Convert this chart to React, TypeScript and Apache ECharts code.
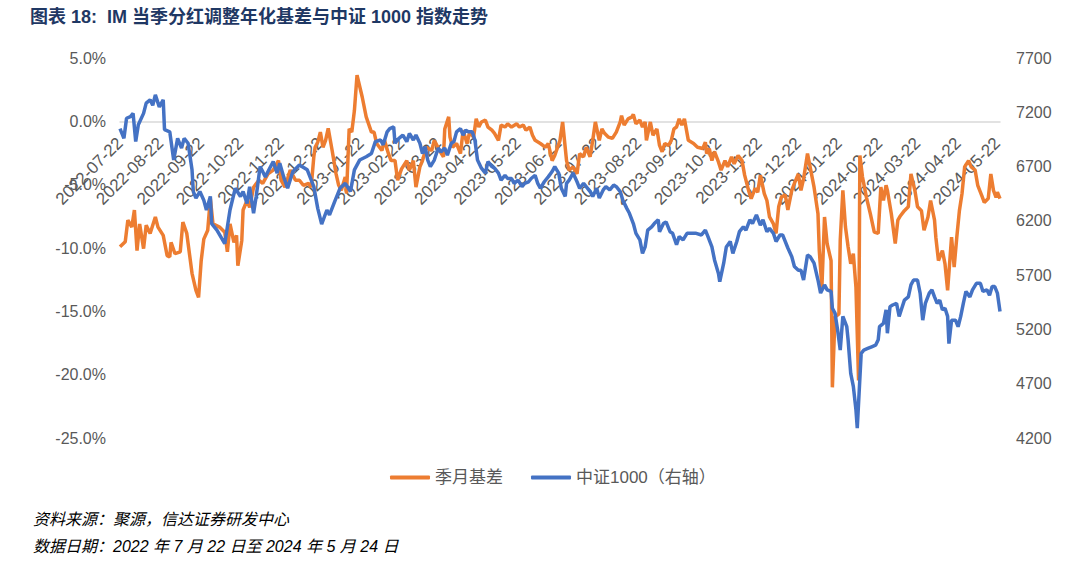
import React, { useEffect, useRef } from "react";
import * as echarts from "echarts";

const START_DATE = "2022-07-22";
const END_DATE = "2024-05-24";
const LEFT_TICKS = { min: -25, max: 5, interval: 5 };
const RIGHT_TICKS = { min: 4200, max: 7700, interval: 500 };
const SERIES_NAMES = ["季月基差", "中证1000（右轴）"];

// 季月基差 (%)
const basisData: [string, number][] = [
  ["2022-07-22", -9.9], ["2022-07-26", -9.5], ["2022-07-28", -7.8], ["2022-07-31", -8.35], ["2022-08-02", -7.0], ["2022-08-04", -10.2], ["2022-08-06", -8.1], ["2022-08-09", -10.05], ["2022-08-11", -8.2], ["2022-08-14", -8.85], ["2022-08-18", -7.55], ["2022-08-20", -8.35],
  ["2022-08-24", -9.0], ["2022-08-27", -10.6], ["2022-08-29", -10.7], ["2022-08-30", -9.55], ["2022-09-02", -10.45], ["2022-09-06", -10.3], ["2022-09-08", -7.95], ["2022-09-11", -8.85], ["2022-09-15", -12.0], ["2022-09-18", -13.35], ["2022-09-20", -13.9],
  ["2022-09-22", -11.0], ["2022-09-24", -9.3], ["2022-09-27", -8.6], ["2022-09-29", -6.1], ["2022-10-01", -8.1], ["2022-10-06", -8.35], ["2022-10-10", -8.75], ["2022-10-12", -10.3], ["2022-10-14", -8.1], ["2022-10-17", -9.55], ["2022-10-19", -9.0], ["2022-10-20", -11.4],
  ["2022-10-23", -9.4], ["2022-10-24", -7.0], ["2022-10-27", -6.25], ["2022-10-29", -6.8], ["2022-11-01", -5.2], ["2022-11-05", -4.65], ["2022-11-08", -4.9], ["2022-11-12", -4.15], ["2022-11-16", -3.85], ["2022-11-20", -3.1],
  ["2022-11-22", -4.65], ["2022-11-25", -5.2], ["2022-11-29", -3.85], ["2022-12-03", -4.65], ["2022-12-06", -4.65], ["2022-12-09", -5.05], ["2022-12-13", -4.9], ["2022-12-15", -5.2], ["2022-12-17", -2.8], ["2022-12-18", -2.05], ["2022-12-20", -1.65],
  ["2022-12-22", -0.85], ["2022-12-24", -2.05], ["2022-12-26", -1.5], ["2022-12-28", -0.55], ["2022-12-31", -2.3], ["2023-01-03", -4.15], ["2023-01-05", -5.05], ["2023-01-07", -5.45], ["2023-01-10", -4.4], ["2023-01-11", -5.7], ["2023-01-13", -0.6], ["2023-01-15", -0.85], ["2023-01-17", 0.85], ["2023-01-19", 3.65],
  ["2023-01-23", 1.9], ["2023-01-26", 0.35], ["2023-01-30", -0.85], ["2023-02-01", -0.85], ["2023-02-03", -1.75], ["2023-02-07", -2.3], ["2023-02-09", -1.5], ["2023-02-12", -2.55], ["2023-02-14", -3.1], ["2023-02-17", -3.1], ["2023-02-19", -4.65],
  ["2023-02-22", -3.75], ["2023-02-26", -3.1], ["2023-02-28", -3.85], ["2023-03-03", -3.1], ["2023-03-05", -5.2], ["2023-03-08", -3.6], ["2023-03-10", -3.1], ["2023-03-13", -2.05], ["2023-03-17", -2.3], ["2023-03-19", -1.5],
  ["2023-03-23", -2.3], ["2023-03-26", -2.8], ["2023-03-27", -0.6], ["2023-03-30", 0.35], ["2023-03-31", -1.25], ["2023-04-02", -2.05], ["2023-04-05", -1.75], ["2023-04-08", -2.55], ["2023-04-10", -0.7], ["2023-04-13", -1.75], ["2023-04-15", -0.85], ["2023-04-18", -1.25], ["2023-04-20", 0.2],
  ["2023-04-22", -0.45], ["2023-04-24", -0.05], ["2023-04-27", 0.1], ["2023-04-29", -0.45], ["2023-05-02", -0.7], ["2023-05-04", -0.95], ["2023-05-07", -1.5], ["2023-05-09", -0.3], ["2023-05-12", -0.45], ["2023-05-14", -0.2], ["2023-05-17", -0.45], ["2023-05-21", -0.2],
  ["2023-05-23", -0.45], ["2023-05-26", -0.3], ["2023-05-28", -0.7], ["2023-05-31", -0.45], ["2023-06-02", -1.1], ["2023-06-04", -1.5], ["2023-06-08", -1.75], ["2023-06-12", -2.05], ["2023-06-14", -1.75], ["2023-06-17", -3.1], ["2023-06-19", -2.7],
  ["2023-06-23", -1.5], ["2023-06-25", -0.05], ["2023-06-28", -3.1], ["2023-06-30", -3.85], ["2023-07-03", -3.6], ["2023-07-06", -4.15], ["2023-07-08", -2.55], ["2023-07-11", -2.8], ["2023-07-13", -2.05], ["2023-07-16", -2.8], ["2023-07-18", -1.5], ["2023-07-20", -0.05],
  ["2023-07-23", -1.5], ["2023-07-25", -0.6], ["2023-07-27", -0.95], ["2023-07-30", -1.25], ["2023-08-02", -1.35], ["2023-08-05", -0.85], ["2023-08-08", -0.05], ["2023-08-09", 0.45], ["2023-08-11", -0.3], ["2023-08-14", 0.2], ["2023-08-17", 0.35], ["2023-08-18", 0.55], ["2023-08-20", -0.2],
  ["2023-08-23", 0.1], ["2023-08-25", -0.45], ["2023-08-27", -0.05], ["2023-08-28", -1.5], ["2023-08-31", -0.05], ["2023-09-02", -1.1], ["2023-09-05", -0.6], ["2023-09-07", -1.9], ["2023-09-09", -2.4], ["2023-09-11", -1.75], ["2023-09-14", -1.9], ["2023-09-16", -1.5], ["2023-09-18", -0.6], ["2023-09-20", -0.45],
  ["2023-09-22", 0.2], ["2023-09-24", -0.3], ["2023-09-26", 0.2], ["2023-09-29", -1.5], ["2023-10-03", -1.75], ["2023-10-06", -2.05], ["2023-10-10", -2.15], ["2023-10-12", -1.65], ["2023-10-13", -2.55], ["2023-10-15", -2.15], ["2023-10-17", -3.1], ["2023-10-19", -2.4],
  ["2023-10-22", -3.2], ["2023-10-24", -3.85], ["2023-10-27", -3.1], ["2023-10-29", -3.6], ["2023-11-01", -2.8], ["2023-11-03", -3.35], ["2023-11-06", -2.7], ["2023-11-09", -3.1], ["2023-11-11", -4.25], ["2023-11-14", -5.45], ["2023-11-16", -6.1], ["2023-11-19", -5.3],
  ["2023-11-21", -5.6], ["2023-11-23", -4.25], ["2023-11-26", -5.7], ["2023-11-28", -6.25], ["2023-11-30", -7.55], ["2023-12-03", -8.1], ["2023-12-05", -8.85], ["2023-12-07", -6.75], ["2023-12-09", -6.0], ["2023-12-12", -5.8], ["2023-12-14", -7.0], ["2023-12-17", -5.45], ["2023-12-19", -4.9],
  ["2023-12-22", -4.15], ["2023-12-24", -5.45], ["2023-12-26", -4.55], ["2023-12-29", -2.55], ["2023-12-31", -3.6], ["2024-01-03", -5.2], ["2024-01-06", -7.3], ["2024-01-07", -10.2], ["2024-01-09", -13.1], ["2024-01-11", -7.55], ["2024-01-13", -9.65], ["2024-01-16", -11.0], ["2024-01-17", -21.0], ["2024-01-19", -15.45],
  ["2024-01-22", -15.2], ["2024-01-23", -9.4], ["2024-01-25", -5.45], ["2024-01-27", -8.35], ["2024-01-29", -9.9], ["2024-01-31", -11.25], ["2024-02-02", -10.45], ["2024-02-04", -13.1], ["2024-02-06", -20.45], ["2024-02-07", -2.7], ["2024-02-09", -4.4], ["2024-02-12", -6.0], ["2024-02-15", -7.3], ["2024-02-18", -8.75], ["2024-02-21", -8.85],
  ["2024-02-23", -5.2], ["2024-02-25", -6.25], ["2024-02-27", -5.05], ["2024-02-28", -5.45], ["2024-03-02", -7.3], ["2024-03-05", -9.65], ["2024-03-07", -7.8], ["2024-03-09", -7.45], ["2024-03-12", -7.05], ["2024-03-15", -6.75], ["2024-03-17", -4.15], ["2024-03-20", -5.45],
  ["2024-03-22", -6.75], ["2024-03-25", -7.05], ["2024-03-27", -8.6], ["2024-03-30", -7.55], ["2024-04-01", -6.25], ["2024-04-04", -7.8], ["2024-04-05", -9.15], ["2024-04-07", -11.0], ["2024-04-10", -10.2], ["2024-04-12", -11.25], ["2024-04-14", -13.35], ["2024-04-17", -9.15], ["2024-04-19", -11.5],
  ["2024-04-21", -9.15], ["2024-04-23", -7.05], ["2024-04-25", -5.7], ["2024-04-27", -3.6], ["2024-04-30", -3.1], ["2024-05-02", -3.6], ["2024-05-05", -3.85], ["2024-05-07", -5.05], ["2024-05-10", -5.85], ["2024-05-12", -6.4], ["2024-05-15", -6.1], ["2024-05-17", -4.15], ["2024-05-19", -5.45],
  ["2024-05-21", -6.0], ["2024-05-22", -5.6], ["2024-05-24", -6.1],
];

// 中证1000 index level (right axis)
const csiData: [string, number][] = [
  ["2022-07-22", 7050], ["2022-07-25", 6960], ["2022-07-27", 7145], ["2022-07-30", 7160], ["2022-08-01", 7190], ["2022-08-03", 6930], ["2022-08-05", 7085], ["2022-08-09", 7190], ["2022-08-11", 7285], ["2022-08-14", 7315], ["2022-08-16", 7265], ["2022-08-18", 7360], ["2022-08-21", 7250],
  ["2022-08-24", 7315], ["2022-08-25", 7040], ["2022-08-29", 7020], ["2022-09-01", 6760], ["2022-09-04", 6960], ["2022-09-07", 6870], ["2022-09-09", 6960], ["2022-09-12", 6915], ["2022-09-15", 6670], ["2022-09-16", 6470], ["2022-09-18", 6410],
  ["2022-09-21", 6470], ["2022-09-24", 6390], ["2022-09-26", 6300], ["2022-09-29", 6425], ["2022-09-30", 6175], ["2022-10-04", 6115], ["2022-10-10", 5990], ["2022-10-14", 6300], ["2022-10-18", 6500], ["2022-10-22", 6425],
  ["2022-10-24", 6470], ["2022-10-27", 6360], ["2022-10-29", 6515], ["2022-11-01", 6270], ["2022-11-03", 6425], ["2022-11-06", 6700], ["2022-11-10", 6605], ["2022-11-12", 6655], ["2022-11-16", 6745], ["2022-11-19", 6640],
  ["2022-11-21", 6730], ["2022-11-24", 6605], ["2022-11-27", 6500], ["2022-12-01", 6655], ["2022-12-06", 6715], ["2022-12-12", 6670], ["2022-12-17", 6515], ["2022-12-20", 6315],
  ["2022-12-23", 6170], ["2022-12-27", 6300], ["2022-12-29", 6255], ["2023-01-02", 6380], ["2023-01-06", 6500], ["2023-01-10", 6545], ["2023-01-14", 6470], ["2023-01-17", 6670], ["2023-01-21", 6760],
  ["2023-01-26", 6790], ["2023-01-30", 6820], ["2023-02-02", 6930], ["2023-02-06", 6945], ["2023-02-08", 6900], ["2023-02-11", 7020], ["2023-02-13", 7050], ["2023-02-16", 7065], ["2023-02-17", 6915], ["2023-02-20", 6960],
  ["2023-02-23", 6990], ["2023-02-26", 6930], ["2023-02-28", 7005], ["2023-03-03", 6945], ["2023-03-05", 6990], ["2023-03-08", 6915], ["2023-03-10", 6820], ["2023-03-12", 6885], ["2023-03-14", 6760], ["2023-03-16", 6700], ["2023-03-19", 6760],
  ["2023-03-22", 6870], ["2023-03-24", 6835], ["2023-03-27", 6870], ["2023-03-29", 6805], ["2023-04-01", 6915], ["2023-04-03", 6930], ["2023-04-05", 7020], ["2023-04-08", 7050], ["2023-04-10", 6990], ["2023-04-12", 7035], ["2023-04-14", 7020], ["2023-04-17", 7020], ["2023-04-19", 6945],
  ["2023-04-21", 6760], ["2023-04-24", 6685], ["2023-04-27", 6640], ["2023-04-29", 6745], ["2023-05-02", 6700], ["2023-05-04", 6685], ["2023-05-07", 6640], ["2023-05-09", 6575], ["2023-05-12", 6620], ["2023-05-14", 6590], ["2023-05-17", 6590], ["2023-05-19", 6545],
  ["2023-05-22", 6575], ["2023-05-25", 6515], ["2023-05-27", 6545], ["2023-05-30", 6560], ["2023-06-01", 6590], ["2023-06-04", 6620], ["2023-06-06", 6545], ["2023-06-08", 6500], ["2023-06-11", 6560], ["2023-06-14", 6605], ["2023-06-17", 6655], ["2023-06-19", 6700],
  ["2023-06-22", 6640], ["2023-06-24", 6500], ["2023-06-27", 6425], ["2023-06-28", 6545], ["2023-06-30", 6575], ["2023-07-03", 6640], ["2023-07-06", 6560], ["2023-07-08", 6500], ["2023-07-11", 6545], ["2023-07-13", 6515], ["2023-07-16", 6470], ["2023-07-18", 6425], ["2023-07-21", 6500],
  ["2023-07-23", 6410], ["2023-07-26", 6485], ["2023-07-28", 6515], ["2023-07-31", 6485], ["2023-08-03", 6530], ["2023-08-05", 6515], ["2023-08-08", 6470], ["2023-08-10", 6390], ["2023-08-13", 6315], ["2023-08-15", 6270], ["2023-08-18", 6175], ["2023-08-20", 6085],
  ["2023-08-23", 6025], ["2023-08-25", 5900], ["2023-08-27", 5960], ["2023-08-29", 6115], ["2023-09-01", 6145], ["2023-09-03", 6175], ["2023-09-06", 6210], ["2023-09-07", 6100], ["2023-09-10", 6175], ["2023-09-12", 6190], ["2023-09-15", 6100], ["2023-09-17", 6085], ["2023-09-20", 5980],
  ["2023-09-22", 6055], ["2023-09-25", 6025], ["2023-09-28", 6085], ["2023-10-01", 6085], ["2023-10-05", 6085], ["2023-10-09", 6070], ["2023-10-12", 6115], ["2023-10-14", 6055], ["2023-10-17", 5960], ["2023-10-19", 5840],
  ["2023-10-22", 5715], ["2023-10-23", 5640], ["2023-10-26", 5810], ["2023-10-28", 5960], ["2023-10-31", 6010], ["2023-11-02", 5900], ["2023-11-05", 6010], ["2023-11-07", 6100], ["2023-11-10", 6145], ["2023-11-12", 6115], ["2023-11-15", 6210], ["2023-11-17", 6175], ["2023-11-20", 6255],
  ["2023-11-23", 6160], ["2023-11-25", 6210], ["2023-11-28", 6100], ["2023-11-30", 6130], ["2023-12-03", 6085], ["2023-12-05", 6010], ["2023-12-08", 6070], ["2023-12-10", 6070], ["2023-12-14", 5950], ["2023-12-17", 5870], ["2023-12-19", 5780],
  ["2023-12-22", 5745], ["2023-12-24", 5745], ["2023-12-26", 5655], ["2023-12-29", 5885], ["2023-12-31", 5870], ["2024-01-03", 5810], ["2024-01-06", 5655], ["2024-01-08", 5535], ["2024-01-11", 5610], ["2024-01-13", 5565], ["2024-01-16", 5550], ["2024-01-17", 5395], ["2024-01-19", 5350],
  ["2024-01-21", 5195], ["2024-01-23", 5010], ["2024-01-25", 5320], ["2024-01-28", 5225], ["2024-01-29", 5105], ["2024-01-31", 4795], ["2024-02-02", 4675], ["2024-02-04", 4460], ["2024-02-05", 4290], ["2024-02-08", 4980], ["2024-02-10", 5010], ["2024-02-13", 5025], ["2024-02-16", 5040], ["2024-02-19", 5055], ["2024-02-21", 5105],
  ["2024-02-22", 5225], ["2024-02-25", 5255], ["2024-02-27", 5380], ["2024-02-28", 5165], ["2024-03-01", 5410], ["2024-03-03", 5425], ["2024-03-06", 5440], ["2024-03-08", 5320], ["2024-03-10", 5395], ["2024-03-12", 5470], ["2024-03-15", 5500], ["2024-03-17", 5610], ["2024-03-19", 5655],
  ["2024-03-22", 5655], ["2024-03-24", 5535], ["2024-03-26", 5285], ["2024-03-28", 5440], ["2024-03-31", 5535], ["2024-04-02", 5565], ["2024-04-04", 5500], ["2024-04-06", 5440], ["2024-04-08", 5470], ["2024-04-10", 5380], ["2024-04-12", 5395], ["2024-04-14", 5320], ["2024-04-15", 5070], ["2024-04-17", 5285], ["2024-04-20", 5285],
  ["2024-04-22", 5225], ["2024-04-24", 5320], ["2024-04-26", 5440], ["2024-04-28", 5550], ["2024-05-01", 5500], ["2024-05-03", 5565], ["2024-05-06", 5625], ["2024-05-09", 5625], ["2024-05-11", 5550], ["2024-05-14", 5565], ["2024-05-16", 5515], ["2024-05-18", 5595], ["2024-05-20", 5595],
  ["2024-05-22", 5535], ["2024-05-24", 5365],
];

function fmtDate(d: Date): string {
  const y = d.getUTCFullYear();
  const m = String(d.getUTCMonth() + 1).padStart(2, "0");
  const dd = String(d.getUTCDate()).padStart(2, "0");
  return `${y}-${m}-${dd}`;
}

function buildCalendar(start: string, end: string): string[] {
  const out: string[] = [];
  const d = new Date(start + "T00:00:00Z");
  const e = new Date(end + "T00:00:00Z");
  while (d.getTime() <= e.getTime()) {
    out.push(fmtDate(d));
    d.setUTCDate(d.getUTCDate() + 1);
  }
  return out;
}

const FONT = "'Liberation Sans', Arial, 'Noto Sans CJK SC', sans-serif";
const GRID = { left: 120, right: 80, top: 58, height: 380 };

export default function App() {
  const ref = useRef<HTMLDivElement>(null);

  useEffect(() => {
    if (!ref.current) return;
    const chart = echarts.init(ref.current, undefined, { renderer: "svg" });
    const categories = buildCalendar(START_DATE, END_DATE);
    const index: Record<string, number> = {};
    categories.forEach((c, i) => (index[c] = i));
    const toPoints = (arr: [string, number][]) => arr.map(([d, v]) => [index[d], v]);
    // distance from the grid bottom up to the 0% level of the left axis
    const zeroOffset = -(GRID.height * (0 - LEFT_TICKS.min)) / (LEFT_TICKS.max - LEFT_TICKS.min);

    chart.setOption({
      animation: false,
      backgroundColor: "#ffffff",
      textStyle: { fontFamily: FONT },
      grid: { left: GRID.left, right: GRID.right, top: GRID.top, height: GRID.height },
      legend: {
        data: SERIES_NAMES,
        left: 385,
        top: 464,
        icon: "roundRect",
        itemWidth: 40,
        itemHeight: 4,
        itemGap: 28,
        textStyle: { color: "#595959", fontSize: 17, fontFamily: FONT },
      },
      xAxis: {
        type: "category",
        data: categories,
        boundaryGap: false,
        position: "bottom",
        offset: zeroOffset,
        axisLine: { onZero: false, lineStyle: { color: "#D9D9D9", width: 1.5 } },
        axisTick: { show: false },
        splitLine: { show: false },
        axisLabel: {
          interval: (_i: number, v: string) => v.slice(8) === "22",
          rotate: 45,
          margin: 19,
          color: "#595959",
          fontSize: 17,
          fontFamily: FONT,
          hideOverlap: false,
        },
      },
      yAxis: [
        {
          type: "value",
          min: LEFT_TICKS.min,
          max: LEFT_TICKS.max,
          interval: LEFT_TICKS.interval,
          axisLine: { show: false },
          axisTick: { show: false },
          splitLine: { show: false },
          axisLabel: {
            color: "#595959",
            fontSize: 16,
            margin: 14,
            fontFamily: FONT,
            formatter: (v: number) => v.toFixed(1) + "%",
          },
        },
        {
          type: "value",
          min: RIGHT_TICKS.min,
          max: RIGHT_TICKS.max,
          interval: RIGHT_TICKS.interval,
          axisLine: { show: false },
          axisTick: { show: false },
          splitLine: { show: false },
          axisLabel: {
            color: "#595959",
            fontSize: 16,
            margin: 16,
            fontFamily: FONT,
            formatter: (v: number) => String(Math.round(v)),
          },
        },
      ],
      series: [
        {
          name: SERIES_NAMES[0],
          type: "line",
          yAxisIndex: 0,
          data: toPoints(basisData),
          symbol: "none",
          lineStyle: { color: "#ED7D31", width: 3.5 },
          itemStyle: { color: "#ED7D31" },
          z: 2,
        },
        {
          name: SERIES_NAMES[1],
          type: "line",
          yAxisIndex: 1,
          data: toPoints(csiData),
          symbol: "none",
          lineStyle: { color: "#4472C4", width: 3.5 },
          itemStyle: { color: "#4472C4" },
          z: 3,
        },
      ],
      graphic: [
        {
          type: "text",
          left: 30,
          top: 8,
          style: {
            text: "图表 18:  IM 当季分红调整年化基差与中证 1000 指数走势",
            fill: "#1F3864",
            font: `bold 18px ${FONT}`,
          },
        },
        {
          type: "text",
          left: 33,
          top: 511,
          style: {
            text: "资料来源：聚源，信达证券研发中心",
            fill: "#000000",
            font: `italic 16px ${FONT}`,
          },
        },
        {
          type: "text",
          left: 33,
          top: 538,
          style: {
            text: "数据日期：2022 年 7 月 22 日至 2024 年 5 月 24 日",
            fill: "#000000",
            font: `italic 16px ${FONT}`,
          },
        },
      ],
    });

    return () => chart.dispose();
  }, []);

  return (
    <div
      ref={ref}
      style={{ position: "fixed", left: 0, top: 0, width: 1080, height: 575, background: "#fff" }}
    />
  );
}
